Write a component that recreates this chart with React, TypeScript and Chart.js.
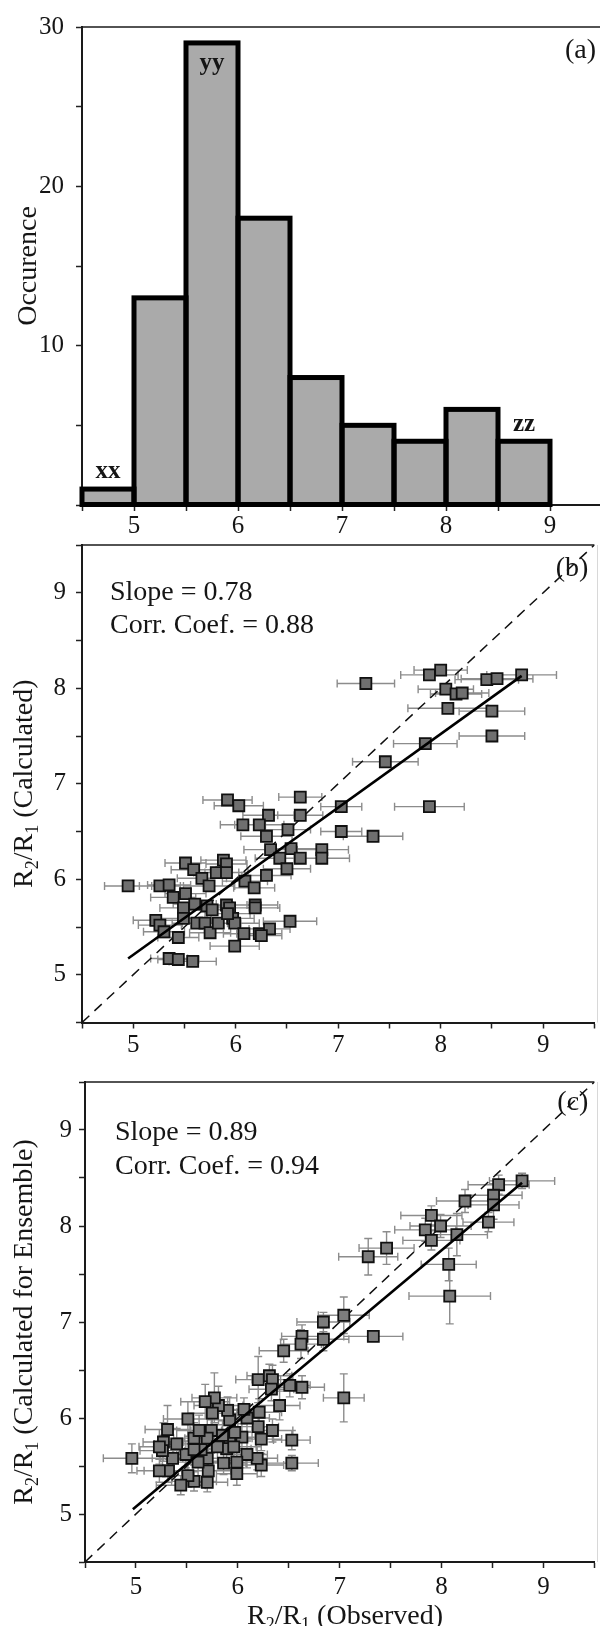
import React, { useEffect, useRef } from 'react';
import { Chart, registerables } from 'chart.js';

Chart.register(...registerables);

const FONT = '"Liberation Serif", "Times New Roman", Times, serif';
const INK = '#151515';

// ---------- (a) histogram ----------
const binCenters = [4.75, 5.25, 5.75, 6.25, 6.75, 7.25, 7.75, 8.25, 8.75];
const binCounts = [1, 13, 29, 18, 8, 5, 4, 6, 4];
const binTags = ['xx', 'yy', 'zz'];
const binTagX = [4.75, 5.75, 8.75];
const binTagY = [2.1, 27.7, 5.05];

// ---------- (b) observed vs calculated ----------
const bObs = [
  7.27, 8.0, 7.89, 8.05, 8.15, 8.21, 8.07, 8.45, 8.55, 8.79, 8.5, 8.5, 7.85, 7.46, 7.89,
  5.92, 6.03, 6.63, 6.63, 6.32, 7.03, 6.07, 6.23, 6.51, 6.3, 7.03, 7.34, 6.34, 6.54, 6.84, 6.84, 6.63, 6.43, 6.5, 6.3,
  5.88, 5.91, 5.51, 5.59, 5.67, 5.81, 5.91, 5.74, 6.09, 6.18, 4.95, 5.26, 5.35, 5.39, 5.51, 5.49, 5.6, 5.72, 5.77, 5.91, 5.94, 6.19, 6.19,
  5.22, 5.26, 5.3, 5.49, 5.62, 5.7, 5.75, 5.83, 5.97, 5.99, 6.08, 6.23, 6.33, 6.53, 5.99, 5.44, 5.35, 5.44, 5.58, 6.25, 5.92,
];
const bCalc = [
  8.05, 8.19, 8.14, 7.99, 7.94, 7.95, 7.79, 8.09, 8.1, 8.14, 7.76, 7.5, 7.42, 7.23, 6.76,
  6.83, 6.77, 6.86, 6.67, 6.67, 6.76, 6.57, 6.57, 6.52, 6.45, 6.5, 6.45, 6.31, 6.32, 6.31, 6.22, 6.22, 6.22, 6.11, 6.04,
  6.2, 6.16, 6.17, 6.1, 6.01, 6.07, 6.07, 5.93, 5.98, 5.91, 5.93, 5.93, 5.94, 5.81, 5.85, 5.7, 5.74, 5.72, 5.68, 5.73, 5.7, 5.73, 5.7,
  5.57, 5.52, 5.45, 5.59, 5.54, 5.54, 5.44, 5.54, 5.59, 5.54, 5.43, 5.43, 5.48, 5.56, 5.3, 5.39, 5.17, 5.16, 5.14, 5.41, 5.64,
];
const bErrX = [
  0.28, 0.26, 0.28, 0.27, 0.25, 0.26, 0.39, 0.31, 0.35, 0.34, 0.32, 0.32, 0.31, 0.32, 0.34,
  0.24, 0.24, 0.21, 0.22, 0.25, 0.2, 0.22, 0.24, 0.22, 0.25, 0.2, 0.29, 0.26, 0.25, 0.26, 0.27, 0.25, 0.24, 0.23, 0.24,
  0.22, 0.2, 0.2, 0.22, 0.24, 0.22, 0.21, 0.25, 0.22, 0.2, 0.23, 0.2, 0.21, 0.22, 0.2, 0.23, 0.21, 0.24, 0.22, 0.2, 0.23, 0.22, 0.24,
  0.22, 0.21, 0.2, 0.23, 0.24, 0.22, 0.2, 0.22, 0.21, 0.24, 0.2, 0.22, 0.2, 0.26, 0.24, 0.2, 0.18, 0.2, 0.23, 0.2, 0.22,
];
const bFitX = [4.95, 8.79];
const bFitY = [5.17, 8.13];

// ---------- (c) observed vs calculated for ensemble ----------
const cObs = [
  8.79, 8.56, 8.51, 8.51, 8.23, 8.46, 7.9, 7.84, 7.9, 7.99, 8.15, 7.46, 7.28, 8.07, 8.08,
  7.04, 6.84, 6.84, 6.63, 6.62, 7.33, 6.45, 7.04, 6.2, 6.31, 6.34, 6.33, 6.51, 6.63, 6.41, 6.21, 6.2, 6.34, 6.23, 6.53, 6.53, 6.23, 6.19, 6.09, 6.09,
  6.04, 5.99, 5.99, 5.92, 5.9, 5.92, 5.89, 5.86, 5.81, 5.77, 5.68, 5.74, 5.7, 5.8, 5.7, 5.71, 5.7, 5.57, 5.61, 5.57,
  5.51, 5.49, 5.51, 5.44, 5.4, 5.36, 5.31, 5.32, 5.27, 5.26, 5.23, 5.23, 4.96, 5.64, 5.57, 5.85, 5.75, 5.97, 5.62, 6.06, 5.96,
];
const cCalc = [
  8.47, 8.43, 8.32, 8.22, 8.26, 8.04, 8.11, 7.96, 7.85, 8.0, 7.91, 7.77, 7.68, 7.6, 7.27,
  7.07, 7.0, 6.82, 6.85, 6.77, 6.85, 6.7, 6.21, 6.4, 6.44, 6.4, 6.3, 6.34, 6.32, 6.13, 6.06, 5.91, 5.87, 5.78, 5.77, 5.53, 5.51, 5.58, 5.62, 6.0,
  5.8, 5.54, 5.42, 5.98, 6.08, 5.79, 5.68, 5.53, 6.13, 6.21, 6.17, 5.87, 5.79, 5.7, 5.58, 5.45, 5.33, 5.34, 5.54, 5.79,
  5.99, 5.62, 5.4, 5.3, 5.73, 5.58, 5.88, 5.45, 5.75, 5.66, 5.7, 5.45, 5.58, 5.67, 5.67, 5.82, 6.05, 5.85, 5.87, 6.09, 5.7,
];
const cErrX = [
  0.32, 0.3, 0.28, 0.25, 0.28, 0.25, 0.3, 0.3, 0.28, 0.3, 0.3, 0.27, 0.29, 0.27, 0.4,
  0.25, 0.26, 0.25, 0.2, 0.2, 0.29, 0.24, 0.2, 0.22, 0.22, 0.2, 0.22, 0.2, 0.22, 0.2, 0.22, 0.2, 0.2, 0.2, 0.18, 0.26, 0.22, 0.2, 0.2, 0.22,
  0.22, 0.24, 0.2, 0.22, 0.2, 0.22, 0.24, 0.22, 0.24, 0.22, 0.24, 0.2, 0.22, 0.2, 0.24, 0.22, 0.2, 0.22, 0.24, 0.2,
  0.24, 0.22, 0.2, 0.24, 0.22, 0.2, 0.22, 0.24, 0.2, 0.22, 0.2, 0.22, 0.28, 0.22, 0.2, 0.22, 0.24, 0.2, 0.22, 0.2, 0.22,
];
const cErrY = [
  0.08, 0.1, 0.12, 0.15, 0.12, 0.1, 0.1, 0.12, 0.1, 0.12, 0.22, 0.17, 0.19, 0.17, 0.29,
  0.19, 0.1, 0.12, 0.12, 0.15, 0.05, 0.12, 0.25, 0.24, 0.12, 0.15, 0.12, 0.12, 0.12, 0.15, 0.14, 0.12, 0.12, 0.12, 0.1, 0.08, 0.12, 0.12, 0.14, 0.14,
  0.14, 0.12, 0.12, 0.16, 0.14, 0.15, 0.16, 0.12, 0.2, 0.26, 0.18, 0.16, 0.14, 0.15, 0.14, 0.14, 0.1, 0.1, 0.14, 0.16,
  0.18, 0.14, 0.12, 0.1, 0.16, 0.14, 0.25, 0.12, 0.2, 0.16, 0.18, 0.12, 0.15, 0.14, 0.16, 0.15, 0.18, 0.14, 0.16, 0.12, 0.14,
];
const cFitX = [4.97, 8.79];
const cFitY = [5.05, 8.45];

const oneToOne = [4.5, 9.5];

// ---------- helpers ----------
type Seg = [string, boolean?];
const calcTitleB: Seg[] = [['R'], ['2', true], ['/R'], ['1', true], [' (Calculated)']];
const calcTitleC: Seg[] = [['R'], ['2', true], ['/R'], ['1', true], [' (Calculated for Ensemble)']];
const obsTitle: Seg[] = [['R'], ['2', true], ['/R'], ['1', true], [' (Observed)']];

function drawRich(ctx: CanvasRenderingContext2D, segs: Seg[], cx: number, cy: number, size: number, rotate: boolean) {
  const subSize = Math.round(size * 0.64);
  ctx.save();
  ctx.translate(cx, cy);
  if (rotate) ctx.rotate(-Math.PI / 2);
  ctx.fillStyle = INK;
  ctx.textBaseline = 'alphabetic';
  ctx.textAlign = 'left';
  let total = 0;
  const widths = segs.map(([t, sub]) => {
    ctx.font = `${sub ? subSize : size}px ${FONT}`;
    const w = ctx.measureText(t).width;
    total += w;
    return w;
  });
  let x = -total / 2;
  const base = size * 0.33;
  segs.forEach(([t, sub], i) => {
    ctx.font = `${sub ? subSize : size}px ${FONT}`;
    ctx.fillText(t, x, sub ? base + size * 0.2 : base);
    x += widths[i];
  });
  ctx.restore();
}

function axisCommon(min: number, max: number, step: number, cb: (v: number) => string, pad: number, size: number, isX: boolean) {
  return {
    type: 'linear' as const,
    min,
    max,
    offset: false,
    grid: { offset: false, drawOnChartArea: false, drawTicks: true, tickLength: 6, tickColor: '#222', tickWidth: 1.5 },
    border: { display: true, color: '#1a1a1a', width: 2 },
    ticks: {
      stepSize: step,
      autoSkip: false,
      maxRotation: 0,
      minRotation: 0,
      padding: pad,
      color: INK,
      font: { family: FONT, size: 25 },
      callback: (v: any) => cb(Number(v)),
    },
    afterFit: (s: any) => {
      if (isX) s.height = size;
      else s.width = size;
    },
  };
}

const intLabel = (v: number) => (Math.abs(v - Math.round(v)) < 1e-9 ? String(Math.round(v)) : '');

const framePlugin = (faintRight: boolean) => ({
  id: 'frame',
  afterDraw(chart: any) {
    const { ctx, chartArea } = chart;
    ctx.save();
    ctx.strokeStyle = '#1a1a1a';
    ctx.lineWidth = 1.6;
    ctx.beginPath();
    ctx.moveTo(chartArea.left, chartArea.top);
    ctx.lineTo(chartArea.right, chartArea.top);
    ctx.stroke();
    if (faintRight) {
      ctx.strokeStyle = '#d8d8d8';
      ctx.lineWidth = 1;
      ctx.beginPath();
      ctx.moveTo(597.5, chartArea.top);
      ctx.lineTo(597.5, chartArea.bottom);
      ctx.stroke();
    }
    ctx.restore();
  },
});

function errorBars(obs: number[], calc: number[], ex: number[], ey: number[] | null) {
  return {
    id: 'errbars',
    beforeDatasetsDraw(chart: any) {
      const { ctx, scales } = chart;
      const xs = scales.x;
      const ys = scales.y;
      ctx.save();
      ctx.strokeStyle = '#8c8c8c';
      ctx.lineWidth = 1.4;
      ctx.beginPath();
      obs.forEach((xv, i) => {
        const px = xs.getPixelForValue(xv);
        const py = ys.getPixelForValue(calc[i]);
        const x0 = xs.getPixelForValue(xv - ex[i]);
        const x1 = xs.getPixelForValue(xv + ex[i]);
        ctx.moveTo(x0, py);
        ctx.lineTo(x1, py);
        ctx.moveTo(x0, py - 4);
        ctx.lineTo(x0, py + 4);
        ctx.moveTo(x1, py - 4);
        ctx.lineTo(x1, py + 4);
        if (ey) {
          const y0 = ys.getPixelForValue(calc[i] - ey[i]);
          const y1 = ys.getPixelForValue(calc[i] + ey[i]);
          ctx.moveTo(px, y0);
          ctx.lineTo(px, y1);
          ctx.moveTo(px - 4, y0);
          ctx.lineTo(px + 4, y0);
          ctx.moveTo(px - 4, y1);
          ctx.lineTo(px + 4, y1);
        }
      });
      ctx.stroke();
      ctx.restore();
    },
  };
}

function textPlugin(draw: (ctx: CanvasRenderingContext2D, ca: any, chart: any) => void) {
  return {
    id: 'texts',
    afterDraw(chart: any) {
      const { ctx, chartArea } = chart;
      ctx.save();
      draw(ctx, chartArea, chart);
      ctx.restore();
    },
  };
}

function plainText(ctx: CanvasRenderingContext2D, t: string, x: number, y: number, size: number, align: CanvasTextAlign, bold = false) {
  ctx.font = `${bold ? 'bold ' : ''}${size}px ${FONT}`;
  ctx.fillStyle = INK;
  ctx.textAlign = align;
  ctx.textBaseline = 'middle';
  ctx.fillText(t, x, y);
}

const baseOptions = {
  responsive: false,
  animation: false as const,
  devicePixelRatio: 1,
  events: [] as any[],
  plugins: { legend: { display: false }, tooltip: { enabled: false } },
};

function scatterData(obs: number[], calc: number[], fitX: number[], fitY: number[], fill: string) {
  return {
    datasets: [
      {
        label: 'fit',
        data: fitX.map((x, i) => ({ x, y: fitY[i] })),
        showLine: true,
        borderColor: '#000',
        borderWidth: 2.6,
        pointRadius: 0,
        order: 0,
      },
      {
        label: 'points',
        data: obs.map((x, i) => ({ x, y: calc[i] })),
        pointStyle: 'rect',
        pointRadius: 7.8,
        backgroundColor: fill,
        borderColor: '#111',
        borderWidth: 1.8,
        showLine: false,
        order: 1,
      },
      {
        label: '1:1',
        data: oneToOne.map((v) => ({ x: v, y: v })),
        showLine: true,
        borderColor: '#111',
        borderWidth: 1.5,
        borderDash: [10, 7],
        pointRadius: 0,
        order: 2,
      },
    ],
  };
}

export default function App() {
  const refA = useRef<HTMLCanvasElement>(null);
  const refB = useRef<HTMLCanvasElement>(null);
  const refC = useRef<HTMLCanvasElement>(null);

  useEffect(() => {
    const charts: Chart[] = [];

    // ----- (a) -----
    const histBorder = {
      id: 'histBorder',
      afterDatasetsDraw(chart: any) {
        const { ctx } = chart;
        const meta = chart.getDatasetMeta(0);
        ctx.save();
        ctx.strokeStyle = '#000';
        ctx.lineWidth = 5;
        ctx.lineJoin = 'miter';
        meta.data.forEach((el: any) => {
          const p = el.getProps(['x', 'y', 'base', 'width'], true);
          ctx.strokeRect(p.x - p.width / 2, p.y, p.width, p.base - p.y);
        });
        ctx.restore();
      },
    };
    charts.push(
      new Chart(refA.current!, {
        type: 'bar',
        data: {
          datasets: [
            {
              data: binCenters.map((x, i) => ({ x, y: binCounts[i] })),
              backgroundColor: '#aaaaaa',
              borderWidth: 0,
              barPercentage: 1,
              categoryPercentage: 1,
            } as any,
          ],
        },
        options: {
          ...baseOptions,
          layout: { padding: { top: 25, left: 0, right: 2, bottom: 0 } },
          scales: {
            x: axisCommon(4.5, 9.5, 0.5, intLabel, 0, 40, true) as any,
            y: axisCommon(0, 30, 5, (v) => (v > 0 && v % 10 === 0 ? String(v) : ''), 12, 82, false) as any,
          },
        } as any,
        plugins: [
          histBorder,
          framePlugin(false),
          textPlugin((ctx, ca, chart) => {
            const xs = chart.scales.x;
            const ys = chart.scales.y;
            binTags.forEach((t, i) => {
              plainText(ctx, t, xs.getPixelForValue(binTagX[i]), ys.getPixelForValue(binTagY[i]), 25, 'center', true);
            });
            plainText(ctx, '(a)', ca.right - 6, ca.top + 24, 28, 'right');
            drawRich(ctx, [['Occurence']], 27, (ca.top + ca.bottom) / 2, 28, true);
          }),
        ],
      })
    );

    // ----- (b) -----
    charts.push(
      new Chart(refB.current!, {
        type: 'scatter',
        data: scatterData(bObs, bCalc, bFitX, bFitY, '#6f6f6f') as any,
        options: {
          ...baseOptions,
          layout: { padding: { top: 24.5, left: 0, right: 2, bottom: 0 } },
          scales: {
            x: axisCommon(4.5, 9.5, 0.5, intLabel, 2, 42.5, true) as any,
            y: axisCommon(4.5, 9.5, 0.5, intLabel, 10, 82, false) as any,
          },
        } as any,
        plugins: [
          errorBars(bObs, bCalc, bErrX, null),
          framePlugin(true),
          textPlugin((ctx, ca) => {
            plainText(ctx, 'Slope = 0.78', ca.left + 28, ca.top + 47.5, 28, 'left');
            plainText(ctx, 'Corr. Coef. = 0.88', ca.left + 28, ca.top + 80.5, 28, 'left');
            plainText(ctx, '(b)', ca.right - 6, ca.top + 24, 28, 'right');
            drawRich(ctx, calcTitleB, 23, (ca.top + ca.bottom) / 2, 28, true);
          }),
        ],
      })
    );

    // ----- (c) -----
    charts.push(
      new Chart(refC.current!, {
        type: 'scatter',
        data: scatterData(cObs, cCalc, cFitX, cFitY, '#7c7c7c') as any,
        options: {
          ...baseOptions,
          layout: { padding: { top: 22, left: 0, right: 2, bottom: 0 } },
          scales: {
            x: axisCommon(4.5, 9.5, 0.5, intLabel, 4, 64, true) as any,
            y: axisCommon(4.5, 9.5, 0.5, intLabel, 7, 85, false) as any,
          },
        } as any,
        plugins: [
          errorBars(cObs, cCalc, cErrX, cErrY),
          framePlugin(true),
          textPlugin((ctx, ca) => {
            plainText(ctx, 'Slope = 0.89', ca.left + 30, ca.top + 50.5, 28, 'left');
            plainText(ctx, 'Corr. Coef. = 0.94', ca.left + 30, ca.top + 85, 28, 'left');
            plainText(ctx, '(c)', ca.right - 6, ca.top + 21, 28, 'right');
            drawRich(ctx, calcTitleC, 23, (ca.top + ca.bottom) / 2, 28, true);
            drawRich(ctx, obsTitle, 345, 555, 28, false);
          }),
        ],
      })
    );

    return () => charts.forEach((c) => c.destroy());
  }, []);

  const cv = (top: number, h: number) => ({
    position: 'absolute' as const,
    left: 0,
    top,
    width: 604,
    height: h,
  });

  return (
    <div style={{ position: 'absolute', left: 0, top: 0, width: 600, height: 1626, overflow: 'hidden', background: '#fff' }}>
      <canvas ref={refA} width={604} height={545} style={cv(0, 545)} />
      <canvas ref={refB} width={604} height={545} style={cv(520, 545)} />
      <canvas ref={refC} width={604} height={566} style={cv(1060, 566)} />
    </div>
  );
}
